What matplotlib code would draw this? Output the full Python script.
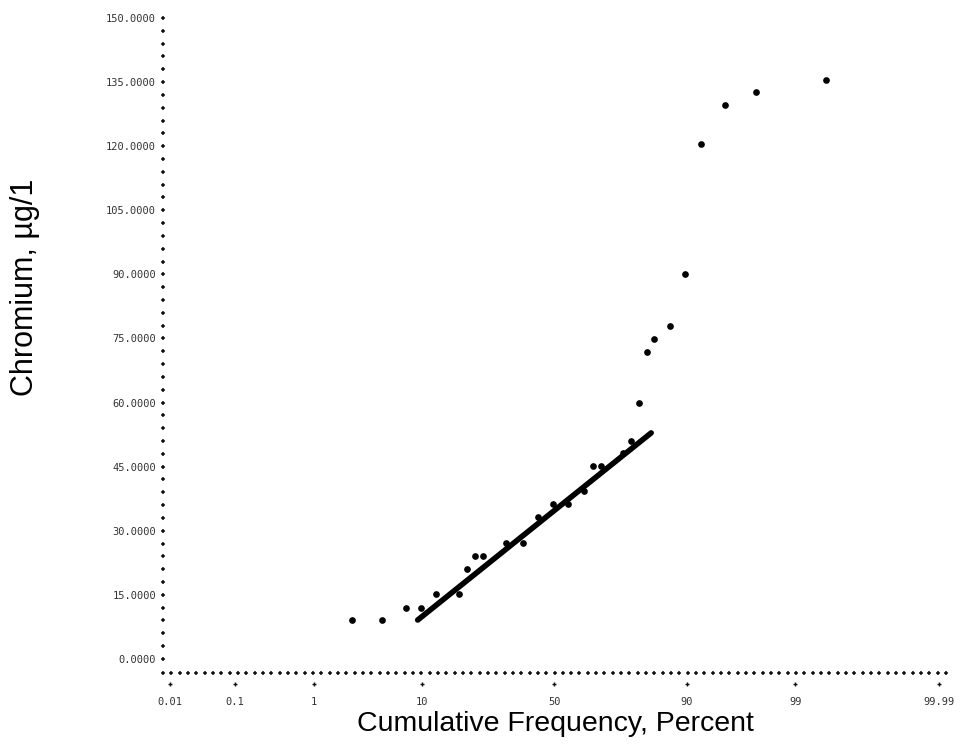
import numpy as np
import matplotlib
matplotlib.use("Agg")
import matplotlib.pyplot as plt
from matplotlib.transforms import blended_transform_factory
from statistics import NormalDist

# cumulative frequency (percent) and chromium value of each sample
cum_pct = [2.5, 4.8, 7.5, 9.9, 12.7, 17.9, 19.9, 22.2, 24.4, 32.0, 37.9, 43.7, 49.6, 55.3,
           61.4, 64.4, 67.2, 74.5, 77.1, 79.2, 81.4, 83.3, 86.7, 89.7, 92.2, 95.0, 97.4, 99.56]
chromium = [9.0, 9.0, 12.0, 12.0, 15.2, 15.2, 21.1, 24.2, 24.2, 27.2, 27.2, 33.3, 36.2, 36.2,
            39.3, 45.1, 45.1, 48.2, 51.1, 60.0, 71.9, 74.9, 78.0, 90.1, 120.6, 129.7, 132.6, 135.5]

# fitted straight line (end points)
fit_pct = [9.3, 82.5]
fit_val = [9.1, 52.9]

x_ticks = [0.01, 0.1, 1, 10, 50, 90, 99, 99.99]
x_labels = ["0.01", "0.1", "1", "10", "50", "90", "99", "99.99"]
y_ticks = [0, 15, 30, 45, 60, 75, 90, 105, 120, 135, 150]

_nd = NormalDist()


def pct_to_z(p):
    p = np.clip(np.asarray(p, dtype=float), 1e-6, 100 - 1e-6)
    return np.vectorize(lambda v: _nd.inv_cdf(v / 100.0), otypes=[float])(p)


def z_to_pct(z):
    z = np.asarray(z, dtype=float)
    return np.vectorize(lambda v: _nd.cdf(v) * 100.0, otypes=[float])(z)


fig = plt.figure(figsize=(9.65, 7.49), dpi=100)
ax = fig.add_axes([163 / 965, 76 / 749, 783 / 965, 655 / 749])
ax.set_xscale("function", functions=(pct_to_z, z_to_pct))
ax.set_xlim(0.0077, 99.9923)
ax.set_ylim(-3.3, 150)

for s in ax.spines.values():
    s.set_visible(False)

# data points and fitted line
ax.plot(cum_pct, chromium, "o", color="black", markersize=3.8, zorder=3)
ax.plot(fit_pct, fit_val, "-", color="black", linewidth=4, solid_capstyle="round", zorder=2)

# axes drawn as rows of "+" signs, like the original printout
ytrans = blended_transform_factory(ax.transAxes, ax.transData)
minor_y = np.arange(0, 151, 3)
ax.plot(np.zeros(len(minor_y)), minor_y, "+", color="#111111", markersize=3.5, mew=1.1,
        transform=ytrans, clip_on=False)
xtrans = blended_transform_factory(ax.transData, ax.transAxes)
row = np.linspace(0, 1, 95)
ax.plot(row, np.zeros(len(row)), "+", color="#111111", markersize=3.5, mew=1.1,
        transform=ax.transAxes, clip_on=False)
ax.plot(x_ticks, [-0.017] * len(x_ticks), "+", color="#111111", markersize=3.5, mew=1.0,
        transform=xtrans, clip_on=False)

ax.set_xticks(x_ticks)
ax.set_xticklabels(x_labels)
ax.xaxis.set_minor_locator(matplotlib.ticker.NullLocator())
ax.set_yticks(y_ticks)
ax.set_yticklabels([f"{v:.4f}" for v in y_ticks])
ax.tick_params(axis="both", length=0, labelsize=7.5, labelcolor="#333333")
ax.tick_params(axis="x", pad=17)
ax.tick_params(axis="y", pad=5)
for lab in ax.get_xticklabels() + ax.get_yticklabels():
    lab.set_family("DejaVu Sans Mono")

fig.text(555 / 965, 1 - 724 / 749, "Cumulative Frequency, Percent", ha="center", va="center",
         fontsize=20.5, family="Liberation Sans")
fig.text(25 / 965, 1 - 287 / 749, "Chromium, µg/1", ha="center", va="center", rotation=90,
         fontsize=22, family="Liberation Sans")

fig.savefig("out.png", facecolor="white")
